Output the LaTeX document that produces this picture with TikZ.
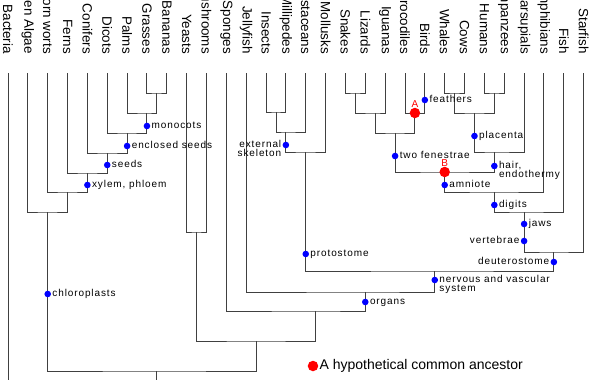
\documentclass[tikz,border=0pt]{standalone}
\usepackage{fontspec}
\setmainfont{Liberation Sans}
\newfontfamily\traitfamily[LetterSpace=9]{Liberation Sans}
\usetikzlibrary{positioning}

\begin{document}
\begin{tikzpicture}[
    x=19.85pt,
    y=-1pt,
    leaf/.style={
        rotate=-90,
        anchor=east,
        inner ysep=0pt,
        inner xsep=19pt,
        font=\fontsize{13.4}{15}\selectfont
    },
    branch/.style={
        draw=black!75,
        line width=0.95pt
    },
    trait/.style={
        circle,
        fill=blue,
        inner sep=0pt,
        minimum size=6.6pt
    },
    ancestor/.style={
        circle,
        fill=red,
        inner sep=0pt,
        minimum size=10.5pt
    },
    tag/.style={
        inner sep=0pt,
        text height=7.2pt,
        text depth=2.1pt,
        font=\traitfamily\fontsize{10}{9}\selectfont
    },
    tagtwo/.style={
        inner sep=0pt,
        font=\traitfamily\fontsize{10}{9}\selectfont,
        align=left,
        anchor=north west,
        yshift=4.8pt
    },
    ancestortag/.style={
        inner sep=0pt,
        anchor=base,
        text=red,
        font=\traitfamily\fontsize{10}{9}\selectfont
    }
]

\useasboundingbox (-0.403,0) rectangle (29.32,380);
\clip (-0.403,0) rectangle (29.32,380);

% ============================================================
% Leaves
% ============================================================

\node[leaf] (bacteria) at (0,73) {Bacteria};
\node[leaf] (greenalgae) at (1,73) {Green Algae};
\node[leaf] (hornworts) at (2,73) {Horn worts};
\node[leaf] (ferns) at (3,73) {Ferns};
\node[leaf] (conifers) at (4,73) {Conifers};
\node[leaf] (dicots) at (5,73) {Dicots};
\node[leaf] (palms) at (6,73) {Palms};
\node[leaf] (grasses) at (7,73) {Grasses};
\node[leaf] (bananas) at (8,73) {Bananas};
\node[leaf] (yeasts) at (9,73) {Yeasts};
\node[leaf] (mushrooms) at (10,73) {Mushrooms};
\node[leaf] (sponges) at (11,73) {Sponges};
\node[leaf] (jellyfish) at (12,73) {Jellyfish};
\node[leaf] (insects) at (13,73) {Insects};
\node[leaf] (millipedes) at (14,73) {Millipedes};
\node[leaf] (crustaceans) at (15,73) {Crustaceans};
\node[leaf] (mollusks) at (16,73) {Mollusks};
\node[leaf] (snakes) at (17,73) {Snakes};
\node[leaf] (lizards) at (18,73) {Lizards};
\node[leaf] (iguanas) at (19,73) {Iguanas};
\node[leaf] (crocodiles) at (20,73) {Crocodiles};
\node[leaf] (birds) at (21,73) {Birds};
\node[leaf] (whales) at (22,73) {Whales};
\node[leaf] (cows) at (23,73) {Cows};
\node[leaf] (humans) at (24,73) {Humans};
\node[leaf] (chimpanzees) at (25,73) {Chimpanzees};
\node[leaf] (marsupials) at (26,73) {Marsupials};
\node[leaf] (amphibians) at (27,73) {Amphibians};
\node[leaf] (fish) at (28,73) {Fish};
\node[leaf] (starfish) at (29,73) {Starfish};

% ============================================================
% Junctions
% ============================================================

% Plants
\coordinate (grassban) at (7.5,93);
\coordinate (monocots) at (7,113);
\coordinate (enclosed) at (6,133);
\coordinate (seedplants) at (5,153);
\coordinate (vascular) at (4,173);
\coordinate (landplants) at (3,192);
\coordinate (plants) at (2,212);

% Fungi
\coordinate (fungi) at (9.5,232);

% Protostomes
\coordinate (insectmil) at (13.5,112);
\coordinate (arthropods) at (14,132);
\coordinate (protostomes) at (15,152);

% Reptiles and mammals
\coordinate (snakeliz) at (17.5,93);
\coordinate (squamates) at (18.5,113);
\coordinate (archosaurs) at (20.5,113);
\coordinate (diapsids) at (19.5,133);
\coordinate (whalecow) at (22.5,93);
\coordinate (apes) at (24.5,93);
\coordinate (placentals) at (23.5,113);
\coordinate (mammals) at (24.5,152);
\coordinate (amniotes) at (22,172);
\coordinate (tetrapods) at (24.5,192);
\coordinate (gnathostomes) at (26,212);
\coordinate (deuterostomes) at (27.5,252);

% Deeper splits
\coordinate (bilaterians) at (21.5,271);
\coordinate (eumetazoa) at (18,292);
\coordinate (animals) at (15.5,311);
\coordinate (opisthokonts) at (12.5,341);
\coordinate (eukaryotes) at (7.5,371);
\coordinate (root) at (7.5,395);

% ============================================================
% Branches
% ============================================================

\draw[branch] (grasses.east) |- (grassban) -| (bananas.east);
\draw[branch] (palms.east) |- (monocots) -| (grassban);
\draw[branch] (dicots.east) |- (enclosed) -| (monocots);
\draw[branch] (conifers.east) |- (seedplants) -| (enclosed);
\draw[branch] (ferns.east) |- (vascular) -| (seedplants);
\draw[branch] (hornworts.east) |- (landplants) -| (vascular);
\draw[branch] (greenalgae.east) |- (plants) -| (landplants);

\draw[branch] (yeasts.east) |- (fungi) -| (mushrooms.east);

\draw[branch] (insects.east) |- (insectmil) -| (millipedes.east);
\draw[branch] (insectmil) |- (arthropods) -| (crustaceans.east);
\draw[branch] (arthropods) |- (protostomes) -| (mollusks.east);

\draw[branch] (snakes.east) |- (snakeliz) -| (lizards.east);
\draw[branch] (snakeliz) |- (squamates) -| (iguanas.east);
\draw[branch] (crocodiles.east) |- (archosaurs) -| (birds.east);
\draw[branch] (squamates) |- (diapsids) -| (archosaurs);
\draw[branch] (whales.east) |- (whalecow) -| (cows.east);
\draw[branch] (humans.east) |- (apes) -| (chimpanzees.east);
\draw[branch] (whalecow) |- (placentals) -| (apes);
\draw[branch] (placentals) |- (mammals) -| (marsupials.east);
\draw[branch] (diapsids) |- (amniotes) -| (mammals);
\draw[branch] (amniotes) |- (tetrapods) -| (amphibians.east);
\draw[branch] (tetrapods) |- (gnathostomes) -| (fish.east);
\draw[branch] (gnathostomes) |- (deuterostomes) -| (starfish.east);

\draw[branch] (protostomes) |- (bilaterians) -| (deuterostomes);
\draw[branch] (jellyfish.east) |- (eumetazoa) -| (bilaterians);
\draw[branch] (sponges.east) |- (animals) -| (eumetazoa);
\draw[branch] (fungi) |- (opisthokonts) -| (animals);
\draw[branch] (plants) |- (eukaryotes) -| (opisthokonts);
\draw[branch] (eukaryotes) -- (root);
\draw[branch] (bacteria.east) -- (bacteria.east |- root);

% ============================================================
% Traits
% ============================================================

\node[trait] (monocotsdot) at (7,126) {};
\node[tag, right=1pt of monocotsdot] {monocots};

\node[trait] (encloseddot) at (6,146) {};
\node[tag, right=1pt of encloseddot] {enclosed seeds};

\node[trait] (seedsdot) at (5,165) {};
\node[tag, right=1pt of seedsdot] {seeds};

\node[trait] (xylemdot) at (4,185) {};
\node[tag, right=1pt of xylemdot] {xylem, phloem};

\node[trait] (chlorodot) at (2,294) {};
\node[tag, right=1pt of chlorodot] {chloroplasts};

\node[trait] (skeletondot) at (14,145) {};
\node[left=1pt of skeletondot, tagtwo, anchor=north east, align=right]
{external\\skeleton};

\node[trait] (protodot) at (15,254) {};
\node[tag, right=1pt of protodot] {protostome};

\node[trait] (feathersdot) at (21,100) {};
\node[tag, right=1pt of feathersdot] {feathers};

\node[trait] (fenestraedot) at (19.5,156) {};
\node[tag, right=1pt of fenestraedot] {two fenestrae};

\node[trait] (placentadot) at (23.5,136) {};
\node[tag, right=1pt of placentadot] {placenta};

\node[trait] (hairdot) at (24.5,166) {};
\node[right=1pt of hairdot, tagtwo]
{hair,\\endothermy};

\node[trait] (amniotedot) at (22,185) {};
\node[tag, right=1pt of amniotedot] {amniote};

\node[trait] (digitsdot) at (24.5,205) {};
\node[tag, right=1pt of digitsdot] {digits};

\node[trait] (jawsdot) at (26,224) {};
\node[tag, right=1pt of jawsdot] {jaws};

\node[trait] (vertebraedot) at (26,241) {};
\node[tag, left=1pt of vertebraedot] {vertebrae};

\node[trait] (deuterodot) at (27.5,262) {};
\node[tag, left=1pt of deuterodot] {deuterostome};

\node[trait] (nervousdot) at (21.5,280) {};
\node[right=1pt of nervousdot, tagtwo]
{nervous and vascular\\system};

\node[trait] (organsdot) at (18,302) {};
\node[tag, right=1pt of organsdot] {organs};

% ============================================================
% Ancestors
% ============================================================

\node[ancestor] (ancestorA) at (archosaurs) {};
\node[ancestortag] at (ancestorA.north) {A};

\node[ancestor] (ancestorB) at (amniotes) {};
\node[ancestortag] at (ancestorB.north) {B};

\node[ancestor] (legenddot) at (15.365,366) {};
\node[right=1pt of legenddot, inner sep=0pt, font=\fontsize{14}{16}\selectfont]
{A hypothetical common ancestor};

\end{tikzpicture}
\end{document}
